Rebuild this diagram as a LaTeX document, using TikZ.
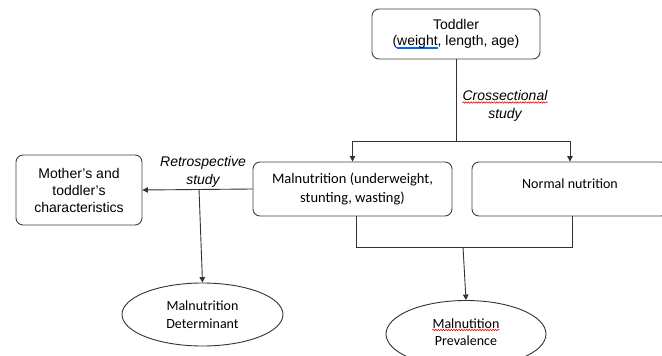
\documentclass[tikz,border=0pt]{standalone}
\usepackage{fontspec}
\setmainfont{Liberation Sans}
\newfontfamily\calibri{Carlito}
\usetikzlibrary{arrows.meta,shapes.geometric,decorations.pathmorphing}
\newlength\ulw
\newcommand\blueline[1]{\settowidth\ulw{#1}\rlap{\textcolor{blue!60!cyan}{\rule[-3pt]{\ulw}{1.1pt}}}#1}
\tikzset{
  rbox/.style={draw=black!75, rounded corners=7pt, line width=0.9pt, align=center, inner sep=0pt},
  oval/.style={draw=black!80, ellipse, line width=0.9pt, align=center, inner sep=0pt},
  conn/.style={draw=black!80, line width=0.9pt},
  arr/.style={conn, -{Triangle[length=5.5pt,width=5.5pt]}},
  calitxt/.style={font=\calibri\fontsize{14.5}{19}\selectfont},
  lbl/.style={inner sep=0pt, anchor=base, font=\itshape\fontsize{14}{18}\selectfont},
  ovtxt/.style={inner sep=0pt, anchor=base, font=\calibri\fontsize{14}{17}\selectfont},
  spell/.style={draw=red, line width=0.6pt, decorate, decoration={snake, amplitude=0.7pt, segment length=2.6pt}}
}
\begin{document}
\begin{tikzpicture}[x=1pt,y=-1pt]
\useasboundingbox (0,0) rectangle (662,356);
\clip (0,0) rectangle (662,356);
% boxes
\node[rbox, minimum width=168pt, minimum height=50pt, font=\fontsize{14}{16}\selectfont] (toddler) at (456,34) {Toddler\\(\blueline{weight}, length, age)};
\node[rbox, calitxt, minimum width=199pt, minimum height=54pt] (mal) at (352.5,189) {Malnutrition (underweight,\\stunting, wasting)};
\node[rbox, minimum width=196pt, minimum height=54pt] (normal) at (570,189) {};
\node[inner sep=0pt, font=\calibri\fontsize{14}{17}\selectfont] (normaltxt) at (570,184) {Normal nutrition};
\node[rbox, minimum width=126pt, minimum height=70pt, font=\fontsize{14}{17}\selectfont] (mother) at (79,190) {Mother's and\\toddler's\\characteristics};
% ellipses
\node[oval, minimum width=161pt, minimum height=63pt, font=\calibri\fontsize{14}{18}\selectfont] (det) at (202.5,314.5) {Malnutrition\\Determinant};
\node[oval, minimum width=160pt, minimum height=67pt] (prev) at (466,334) {};
\node[ovtxt] (prev1) at (466,328) {Malnutition};
\node[ovtxt] (prev2) at (466,345) {Prevalence};
% labels
\node[lbl] (cross1) at (505,100) {Crossectional};
\node[lbl] (cross2) at (505,118) {study};
\node[lbl] (retro1) at (203,166) {Retrospective};
\node[lbl] (retro2) at (203,184) {study};
% spelling marks
\draw[spell] ([yshift=-2.5pt]cross1.base west) -- ([yshift=-2.5pt]cross1.base east);
\draw[spell] ([yshift=-2pt]prev1.base west) -- ([yshift=-2pt]prev1.base east);
% connectors
\coordinate (hl) at (352,141);
\coordinate (b1) at (356,247);
\coordinate (b2) at (572,247);
\coordinate (bm) at (463,247);
\coordinate (dm) at (199,189);
\draw[conn] (toddler.south) -- (toddler.south |- hl);
\draw[arr] (mal.north |- hl) -- (mal.north);
\draw[arr] (mal.north |- hl) -- (normal.north |- hl) -- (normal.north);
\draw[conn] (b1 |- mal.south) -- (b1) -- (b2) -- (b2 |- normal.south);
\draw[arr] (bm) -- (prev.north);
\draw[arr] (mal.west) -- (mother.east);
\draw[arr] (dm) -- (det.north);
\end{tikzpicture}
\end{document}
